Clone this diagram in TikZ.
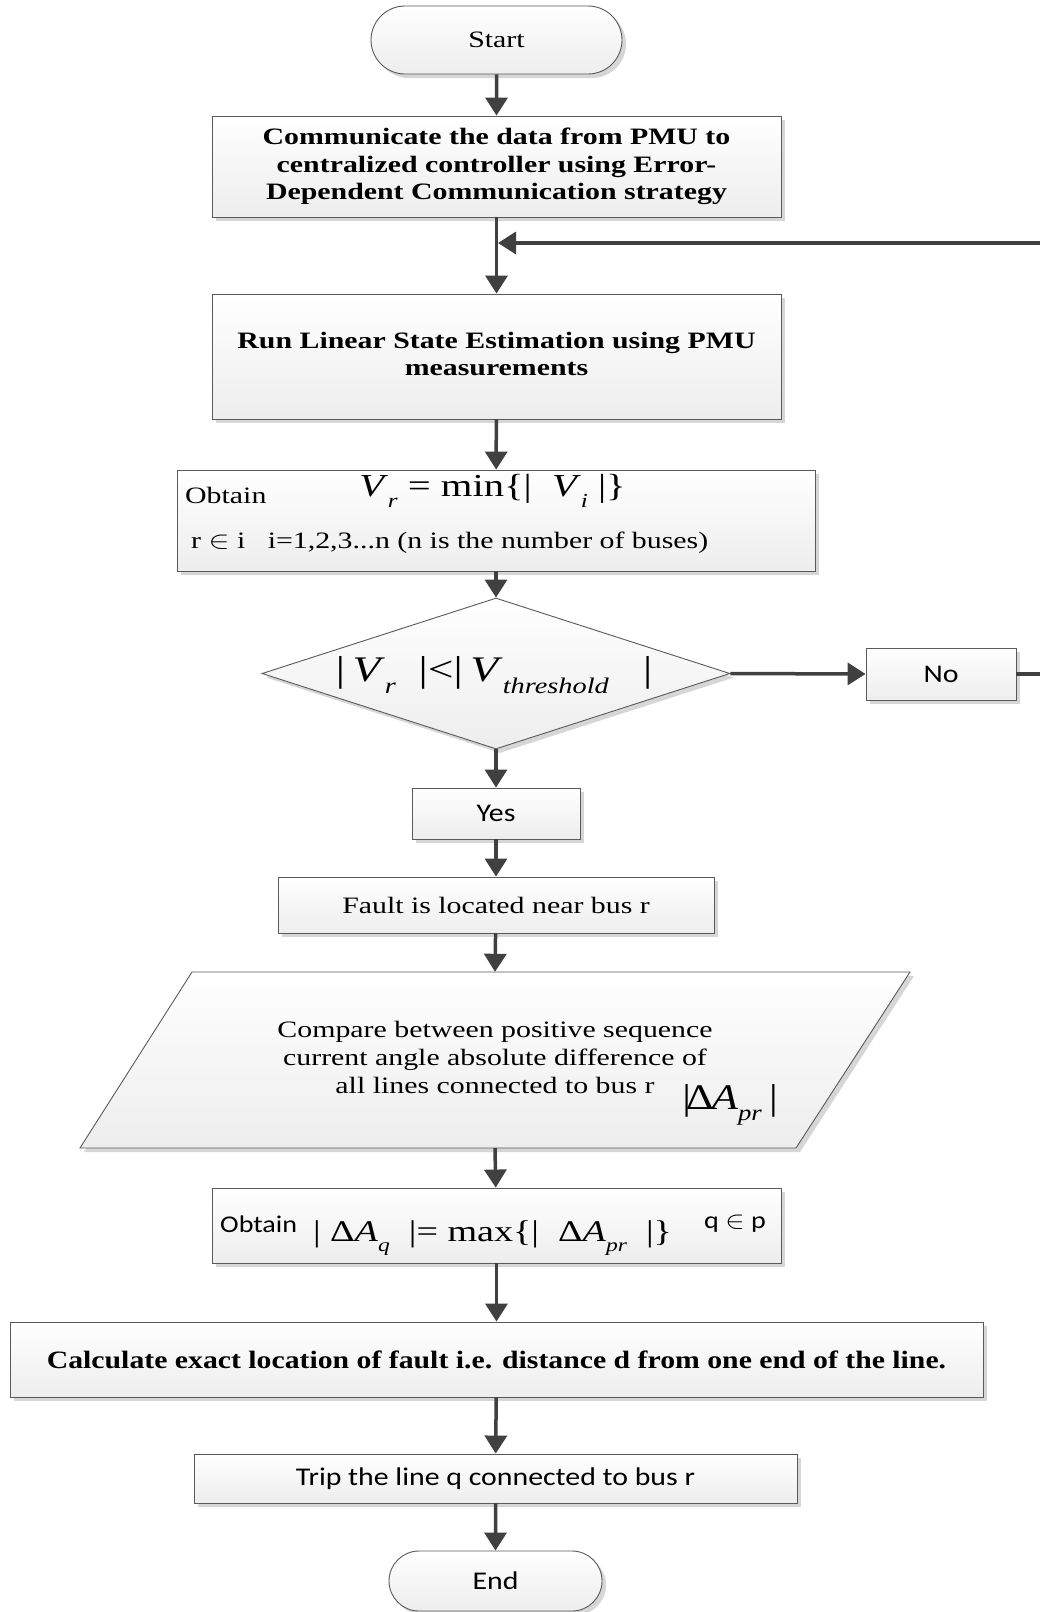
\documentclass[tikz,border=0pt]{standalone}
\usepackage{fontspec}
\setmainfont{Liberation Serif}
\newfontfamily\calib{Carlito}
\usetikzlibrary{arrows.meta,shapes.geometric,shapes.misc,shadows}
\definecolor{lncol}{HTML}{404040}
\definecolor{bdcol}{HTML}{5A5A5A}
\definecolor{shdcol}{HTML}{D6D6D6}
\newcommand\hs[2]{\scalebox{#1}[1]{#2}}
\newcommand\lo[1]{\raisebox{-0.32em}{\scalebox{0.62}{\itshape #1}}}
\newcommand\ml[1]{\begin{tabular}{@{}c@{}}#1\end{tabular}}
\newcommand\tms{\fontsize{23.5}{27.7}\selectfont}
\newcommand\sns{\calib\fontsize{25.5}{30}\selectfont}
\tikzset{
  base/.style={draw=bdcol, line width=0.9pt, top color=white, bottom color=gray!14,
    drop shadow={shadow xshift=4pt, shadow yshift=-4pt, fill=shdcol, opacity=1}, inner sep=0pt},
  box/.style={base, rectangle},
  term/.style={base, rounded rectangle},
  wire/.style={draw=lncol, line width=3.5pt},
  arr/.style={wire, -{Triangle[length=18pt,width=22pt]}},
  txt/.style={inner sep=0pt}
}
\begin{document}
\begin{tikzpicture}[x=1pt,y=-1pt]
\useasboundingbox[fill=white] (0,0) rectangle (1040,1612);

\node[term, minimum width=251, minimum height=68] (start) at (496.5,40) {\tms\hs{1.27}{Start}};

\node[box, minimum width=569, minimum height=101] (b1) at (496.5,166.5)
  {\tms\bfseries\hs{1.27}{\ml{Communicate the data from PMU to\\centralized controller using Error-\\Dependent Communication strategy}}};

\node[box, minimum width=569, minimum height=125] (b2) at (496.5,356.5)
  {\tms\bfseries\hs{1.27}{\ml{Run Linear State Estimation using PMU\\measurements}}};

\node[box, minimum width=638, minimum height=101] (b3) at (496,520.5) {};
\node[txt, anchor=west] (b3a) at (185,495) {\tms\hs{1.27}{Obtain}};
\node[txt] (b3m) at (492.5,491) {\fontsize{32}{32}\selectfont\hs{1.27}{\textit{V}\lo{r} = min\{|\ \ \textit{V}\lo{i}\ |\}}};
\node[txt, anchor=west] (b3b) at (191,543) {\tms\hs{1.27}{r $\in$ i\ \ \ i=1,2,3...n (n is the number of buses)}};

\node[base, diamond, minimum width=468, minimum height=151] (dec) at (496,673.5) {};
\node[txt] (dect) at (494,675) {\fontsize{36}{36}\selectfont\hs{1.27}{|\,\textit{V}\lo{r}\ \ |<|\,\textit{V}\lo{threshold}\ \ \ |}};

\node[box, minimum width=150, minimum height=52] (no) at (941,674) {\sns\hs{1.17}{No}};
\node[box, minimum width=168, minimum height=51] (yes) at (496,813.5) {\sns\hs{1.17}{Yes}};
\node[box, minimum width=436, minimum height=56] (fault) at (496,905) {\tms\hs{1.27}{Fault is located near bus r}};

\node[txt, minimum width=830, minimum height=176] (para) at (495,1060) {};
\path[base] (192,972) -- (910,972) -- (796,1148) -- (80,1148) -- cycle;
\node[txt] (pt) at (495,1060) {\tms\hs{1.27}{\ml{Compare between positive sequence\\current angle absolute difference of\\all lines connected to bus r}}};
\node[txt] (pd) at (730,1105) {\fontsize{36}{36}\selectfont\hs{1.2}{|$\!$Δ\kern-0.05em\textit{A}\lo{pr}\,|}};

\node[box, minimum width=569, minimum height=75] (b4) at (496.5,1225.5) {};
\node[txt, anchor=west] (b4a) at (220,1224) {\calib\fontsize{24}{28}\selectfont\hs{1.17}{Obtain}};
\node[txt] (b4m) at (492.5,1238) {\fontsize{30}{30}\selectfont\hs{1.27}{|\ Δ\textit{A}\lo{q}\ \ |= max\{|\ \ Δ\textit{A}\lo{pr}\ \ |\}}};
\node[txt] (b4q) at (735,1224) {\calib\fontsize{24}{28}\selectfont\hs{1.17}{q $\in$ p}};

\node[box, minimum width=973, minimum height=75] (calc) at (496.5,1359.5)
  {\fontsize{25}{29}\selectfont\bfseries\hs{1.19}{Calculate exact location of fault i.e. distance d from one end of the line.}};

\node[box, minimum width=603, minimum height=49] (trip) at (495.5,1478.5) {\sns\hs{1.17}{Trip the line q connected to bus r}};

\node[term, minimum width=213, minimum height=60] (end) at (495.5,1581) {\sns\hs{1.17}{End}};

\coordinate (fbj) at (498,243);
\coordinate (fbr) at (1060,674);

\draw[arr] (start) -- (b1);
\draw[arr] (b1) -- (b2);
\draw[arr] (no.east) -- (fbr) |- (fbj);
\draw[arr] (b2) -- (b3);
\draw[arr] (b3) -- (dec);
\draw[arr] (dec.east) -- (no.west);
\draw[arr] (dec.south) -- (yes.north);
\draw[arr] (yes) -- (fault);
\draw[arr] (fault) -- (para.north);
\draw[arr] (para.south) -- (b4);
\draw[arr] (b4) -- (calc);
\draw[arr] (calc) -- (trip);
\draw[arr] (trip) -- (end);
\end{tikzpicture}
\end{document}
